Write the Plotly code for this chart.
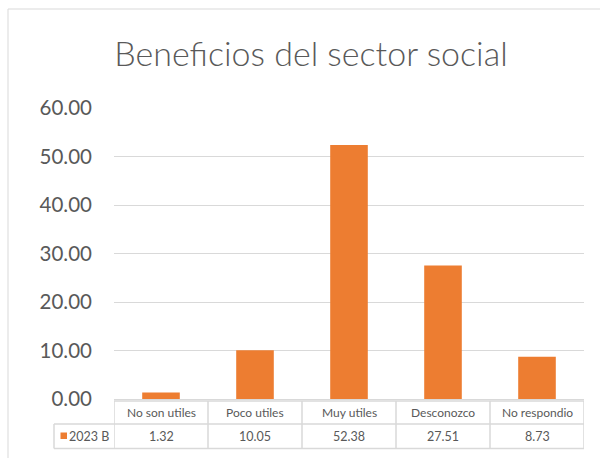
import plotly.graph_objects as go

categories = ["No son utiles", "Poco utiles", "Muy utiles", "Desconozco", "No respondio"]
values = [1.32, 10.05, 52.38, 27.51, 8.73]
series_name = "2023 B"
title_text = "Beneficios del sector social"

BAR = "#ED7D31"
TXT = "#595959"
GRID = "#d9d9d9"
FONT = "Lato, 'Noto Sans', sans-serif"

W, H = 600, 458
L, R, T, B = 114, 16, 108, 59
PW = W - L - R
PH = H - T - B


def px_x(px):
    return (px - L) / PW


def px_y(py):
    return (H - B - py) / PH


fig = go.Figure()
fig.add_trace(go.Bar(x=categories, y=values, marker=dict(color=BAR, line=dict(width=0)),
                     width=0.4, name=series_name, showlegend=False))

shapes = []
# chart border
shapes.append(dict(type="rect", xref="paper", yref="paper", x0=px_x(8), x1=px_x(640),
                   y0=px_y(9), y1=px_y(500), line=dict(color=GRID, width=1)))

# data table grid
t_top, t_mid, t_bot = px_y(401), px_y(424), px_y(448.5)
n = len(categories)
for i in range(n + 1):
    shapes.append(dict(type="line", xref="x", yref="paper", x0=i - 0.5, x1=i - 0.5,
                       y0=t_top, y1=t_bot, line=dict(color=GRID, width=1.5)))
shapes.append(dict(type="line", xref="x", yref="paper", x0=-0.5, x1=n - 0.5,
                   y0=t_top, y1=t_top, line=dict(color=GRID, width=1.5)))
for yy in (t_mid, t_bot):
    shapes.append(dict(type="line", xref="paper", yref="paper", x0=px_x(54), x1=1,
                       y0=yy, y1=yy, line=dict(color=GRID, width=1.5)))
shapes.append(dict(type="line", xref="paper", yref="paper", x0=px_x(54), x1=px_x(54),
                   y0=t_mid, y1=t_bot, line=dict(color=GRID, width=1.5)))
# legend key
shapes.append(dict(type="rect", xref="paper", yref="paper", x0=px_x(60.5), x1=px_x(67),
                   y0=px_y(432.5), y1=px_y(439), line=dict(width=0), fillcolor=BAR))

annotations = []
for i, (c, v) in enumerate(zip(categories, values)):
    annotations.append(dict(x=c, y=px_y(412.5), xref="x", yref="paper", text=c,
                            showarrow=False, font=dict(family=FONT, size=12, color=TXT),
                            xanchor="center", yanchor="middle"))
    annotations.append(dict(x=c, y=px_y(436.5), xref="x", yref="paper", text=f"{v:.2f}",
                            showarrow=False, font=dict(family=FONT, size=12.5, color=TXT),
                            xanchor="center", yanchor="middle"))
annotations.append(dict(x=px_x(68.5), y=px_y(436.5), xref="paper", yref="paper", text=series_name,
                        showarrow=False, font=dict(family=FONT, size=12.5, color=TXT),
                        xanchor="left", yanchor="middle", xshift=-2))

fig.update_layout(
    width=W, height=H,
    margin=dict(l=L, r=R, t=T, b=B, pad=0),
    paper_bgcolor="white", plot_bgcolor="white",
    title=dict(text=title_text, x=311 / W, xref="container", xanchor="center",
               y=1 - 54 / H, yref="container", yanchor="middle",
               font=dict(family=FONT, size=34, color=TXT, weight=300)),
    xaxis=dict(range=[-0.5, n - 0.5], showticklabels=False, showgrid=False,
               zeroline=False, showline=False, ticks=""),
    yaxis=dict(range=[0, 60], dtick=10, tickformat=".2f", showgrid=True,
               gridcolor=GRID, gridwidth=1, zeroline=True, zerolinecolor=GRID,
               zerolinewidth=1, showline=False, ticks="", ticklabelstandoff=21,
               tickfont=dict(family=FONT, size=20.5, color=TXT)),
    shapes=shapes, annotations=annotations,
    bargap=0.6,
)

fig.write_html("out.html", config={"displayModeBar": False},
               post_script="document.body.style.margin='0';document.body.style.overflow='hidden';")
